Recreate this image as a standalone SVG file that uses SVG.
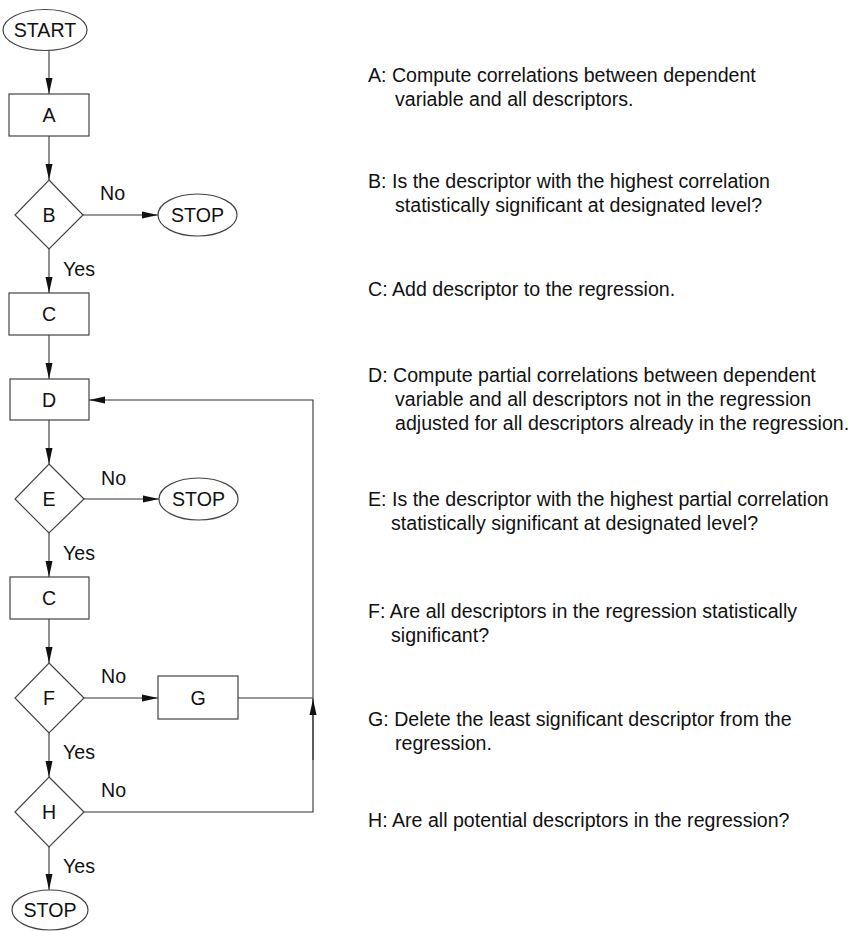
<svg xmlns="http://www.w3.org/2000/svg" width="863" height="931" viewBox="0 0 863 931">
<style>
text{font-family:"Liberation Sans",Arial,sans-serif;font-size:19.6px;fill:#111}
.lbl{text-anchor:middle}
.shape{fill:#fff;stroke:#444;stroke-width:1.2}
.conn{fill:none;stroke:#333;stroke-width:1.1}
</style>
<defs>
<marker id="ah" viewBox="0 0 16 8" refX="16" refY="4" markerWidth="16" markerHeight="8" markerUnits="userSpaceOnUse" orient="auto">
<path d="M0,0.5 L16,4 L0,7.5 Z" fill="#111"/>
</marker>
</defs>
<rect width="863" height="931" fill="#fff"/>

<g id="connectors">
<line class="conn" x1="49" y1="50" x2="49" y2="94" marker-end="url(#ah)"/>
<line class="conn" x1="49" y1="136" x2="49" y2="180" marker-end="url(#ah)"/>
<line class="conn" x1="83" y1="215" x2="158" y2="215" marker-end="url(#ah)"/>
<line class="conn" x1="49" y1="249" x2="49" y2="293" marker-end="url(#ah)"/>
<line class="conn" x1="49" y1="335" x2="49" y2="379" marker-end="url(#ah)"/>
<line class="conn" x1="49" y1="420" x2="49" y2="464" marker-end="url(#ah)"/>
<line class="conn" x1="84" y1="499" x2="159" y2="499" marker-end="url(#ah)"/>
<line class="conn" x1="49" y1="533" x2="49" y2="577" marker-end="url(#ah)"/>
<line class="conn" x1="49" y1="619" x2="49" y2="663" marker-end="url(#ah)"/>
<line class="conn" x1="84" y1="698" x2="158" y2="698" marker-end="url(#ah)"/>
<line class="conn" x1="49" y1="733" x2="49" y2="777" marker-end="url(#ah)"/>
<line class="conn" x1="238" y1="698" x2="313" y2="698"/>
<polyline class="conn" points="84,812 313,812 313,400 89,400" marker-end="url(#ah)"/>
<line class="conn" x1="313" y1="760" x2="313" y2="699" marker-end="url(#ah)"/>
<line class="conn" x1="49" y1="847" x2="49" y2="890" marker-end="url(#ah)"/>
<text x="100" y="200">No</text>
<text x="63" y="276">Yes</text>
<text x="101" y="485">No</text>
<text x="63" y="560">Yes</text>
<text x="101" y="683">No</text>
<text x="63" y="759">Yes</text>
<text x="101" y="797">No</text>
<text x="63" y="873">Yes</text>
</g>

<g id="start">
<ellipse class="shape" cx="45" cy="30" rx="42" ry="20.5"/>
<text class="lbl" x="45" y="37">START</text>
</g>
<g id="nodeA">
<rect class="shape" x="9" y="94" width="80" height="42"/>
<text class="lbl" x="49" y="122">A</text>
</g>
<g id="nodeB">
<polygon class="shape" points="49,180 83,215 49,249 15,215"/>
<text class="lbl" x="49" y="222">B</text>
</g>
<g id="stop1">
<ellipse class="shape" cx="197.5" cy="215" rx="39.5" ry="21"/>
<text class="lbl" x="197.5" y="222">STOP</text>
</g>
<g id="nodeC1">
<rect class="shape" x="9" y="293" width="80" height="42"/>
<text class="lbl" x="49" y="321">C</text>
</g>
<g id="nodeD">
<rect class="shape" x="10" y="379" width="79" height="41"/>
<text class="lbl" x="49" y="407">D</text>
</g>
<g id="nodeE">
<polygon class="shape" points="49,464 84,499 49,533 15,499"/>
<text class="lbl" x="49" y="506">E</text>
</g>
<g id="stop2">
<ellipse class="shape" cx="198.5" cy="499" rx="39.5" ry="21"/>
<text class="lbl" x="198.5" y="506">STOP</text>
</g>
<g id="nodeC2">
<rect class="shape" x="10" y="577" width="79" height="42"/>
<text class="lbl" x="49" y="605">C</text>
</g>
<g id="nodeF">
<polygon class="shape" points="49,663 84,698 49,733 15,698"/>
<text class="lbl" x="49" y="705">F</text>
</g>
<g id="nodeG">
<rect class="shape" x="158" y="676" width="80" height="43"/>
<text class="lbl" x="198" y="705">G</text>
</g>
<g id="nodeH">
<polygon class="shape" points="49,777 84,812 49,847 15,812"/>
<text class="lbl" x="49" y="819">H</text>
</g>
<g id="stop3">
<ellipse class="shape" cx="50" cy="910" rx="38" ry="20"/>
<text class="lbl" x="50" y="917">STOP</text>
</g>

<g id="legend">
<text x="368" y="82">A: Compute correlations between dependent</text>
<text x="395" y="106">variable and all descriptors.</text>
<text x="368" y="188">B: Is the descriptor with the highest correlation</text>
<text x="395" y="212">statistically significant at designated level?</text>
<text x="368" y="296">C: Add descriptor to the regression.</text>
<text x="368" y="382">D: Compute partial correlations between dependent</text>
<text x="395" y="406">variable and all descriptors not in the regression</text>
<text x="395" y="430">adjusted for all descriptors already in the regression.</text>
<text x="368" y="506">E: Is the descriptor with the highest partial correlation</text>
<text x="391" y="530">statistically significant at designated level?</text>
<text x="368" y="618">F: Are all descriptors in the regression statistically</text>
<text x="391" y="642">significant?</text>
<text x="368" y="726">G: Delete the least significant descriptor from the</text>
<text x="395" y="750">regression.</text>
<text x="368" y="827">H: Are all potential descriptors in the regression?</text>
</g>
</svg>
